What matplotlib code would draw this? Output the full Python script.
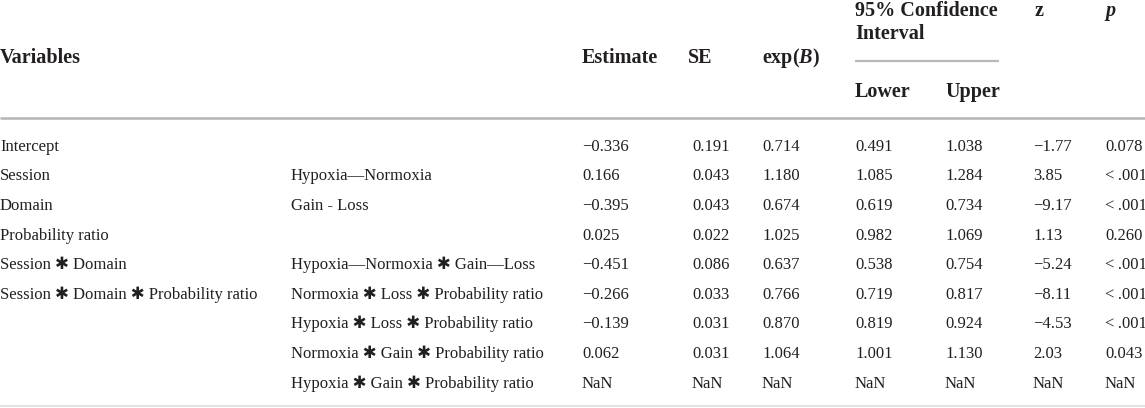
import matplotlib
matplotlib.use("Agg")
import matplotlib.pyplot as plt
import math

# ---------------- data ----------------
STAR = "✱"
variables = ["Intercept", "Session", "Domain", "Probability ratio", f"Session {STAR} Domain",
             f"Session {STAR} Domain {STAR} Probability ratio", "", "", ""]
contrasts = ["", "Hypoxia—Normoxia", "Gain - Loss", "", f"Hypoxia—Normoxia {STAR} Gain—Loss",
             f"Normoxia {STAR} Loss {STAR} Probability ratio", f"Hypoxia {STAR} Loss {STAR} Probability ratio",
             f"Normoxia {STAR} Gain {STAR} Probability ratio", f"Hypoxia {STAR} Gain {STAR} Probability ratio"]
estimate = [-0.336, 0.166, -0.395, 0.025, -0.451, -0.266, -0.139, 0.062, float("nan")]
se = [0.191, 0.043, 0.043, 0.022, 0.086, 0.033, 0.031, 0.031, float("nan")]
exp_b = [0.714, 1.180, 0.674, 1.025, 0.637, 0.766, 0.870, 1.064, float("nan")]
ci_lower = [0.491, 1.085, 0.619, 0.982, 0.538, 0.719, 0.819, 1.001, float("nan")]
ci_upper = [1.038, 1.284, 0.734, 1.069, 0.754, 0.817, 0.924, 1.130, float("nan")]
z_vals = [-1.77, 3.85, -9.17, 1.13, -5.24, -8.11, -4.53, 2.03, float("nan")]
p_vals = ["0.078", "<\u2009.001", "<\u2009.001", "0.260", "<\u2009.001", "<\u2009.001",
          "<\u2009.001", "0.043", "NaN"]


def fmt(v, nd):
    if isinstance(v, float) and math.isnan(v):
        return "NaN"
    s = f"{v:.{nd}f}"
    return s.replace("-", "−")


plt.rcParams["mathtext.fontset"] = "custom"
plt.rcParams["mathtext.rm"] = "Liberation Serif"
plt.rcParams["mathtext.bf"] = "Liberation Serif:bold"
plt.rcParams["mathtext.it"] = "Liberation Serif:italic"
plt.rcParams["mathtext.bfit"] = "Liberation Serif:bold:italic"

# ---------------- figure ----------------
W, H = 1145, 408
fig = plt.figure(figsize=(W / 100, H / 100), dpi=100)
ax = fig.add_axes([0, 0, 1, 1])
ax.set_xlim(0, W)
ax.set_ylim(H, 0)
ax.axis("off")

FAM = ["Liberation Serif", "DejaVu Serif", "DejaVu Sans"]
TXT = "#231f20"
HS = 14.5   # header size
BS = 12.0   # body size

col_x = {"var": 0, "con": 291, "est": 582, "se": 692, "exp": 762,
         "lo": 855, "up": 945, "z": 1033, "p": 1105}

# headers
hdr_kw = dict(fontsize=HS, fontweight="bold", color=TXT, family=FAM, va="baseline", ha="left")
ax.text(col_x["var"], 63, "Variables", **hdr_kw)
ax.text(col_x["est"], 63, "Estimate", **hdr_kw)
ax.text(688, 63, "SE", **hdr_kw)
ax.text(col_x["exp"], 63, r"$\mathbf{exp(}\mathbfit{B}\mathbf{)}$", **hdr_kw)
ax.text(col_x["lo"], 16, "95% Confidence", **hdr_kw)
ax.text(col_x["lo"], 39, "Interval", **hdr_kw)
ax.text(col_x["lo"], 97, "Lower", **hdr_kw)
ax.text(col_x["up"], 97, "Upper", **hdr_kw)
ax.text(col_x["z"] + 2, 16, "z", **hdr_kw)
ax.text(col_x["p"], 16, "p", fontstyle="italic", **hdr_kw)

# lines
ax.plot([col_x["lo"], 999], [61, 61], color="#b8b8b8", lw=1.6, solid_capstyle="butt")
ax.plot([0, W], [117.5, 117.5], color="#b4b4b4", lw=1.8, solid_capstyle="butt")
ax.plot([0, W], [406, 406], color="#e2e2e2", lw=1.4, solid_capstyle="butt")

# body
body_kw = dict(fontsize=BS, color=TXT, family=FAM, va="baseline", ha="left")
for i in range(len(variables)):
    yb = 150.7 + 29.6 * i
    ax.text(col_x["var"], yb, variables[i], **body_kw)
    ax.text(col_x["con"], yb, contrasts[i], **body_kw)
    ax.text(col_x["est"], yb, fmt(estimate[i], 3), **body_kw)
    ax.text(col_x["se"], yb, fmt(se[i], 3), **body_kw)
    ax.text(col_x["exp"], yb, fmt(exp_b[i], 3), **body_kw)
    ax.text(col_x["lo"], yb, fmt(ci_lower[i], 3), **body_kw)
    ax.text(col_x["up"], yb, fmt(ci_upper[i], 3), **body_kw)
    ax.text(col_x["z"], yb, fmt(z_vals[i], 2), **body_kw)
    ax.text(col_x["p"], yb, p_vals[i], **body_kw)

fig.savefig("out.png", dpi=100, facecolor="white")
